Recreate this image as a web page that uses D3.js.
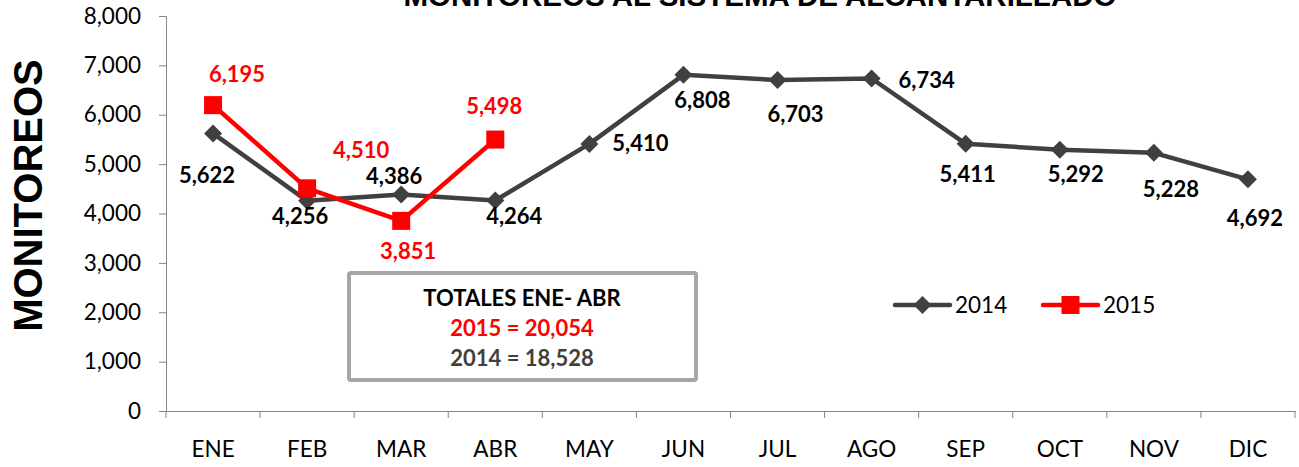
<!DOCTYPE html>
<html>
<head>
<meta charset="utf-8">
<script src="https://cdn.jsdelivr.net/npm/d3@7"></script>
<style>
  body { margin: 0; background: #fff; }
  text { font-family: Lato, "Open Sans", sans-serif; }
</style>
</head>
<body>
<div id="chart"></div>
<script>
// data
const months = ["ENE", "FEB", "MAR", "ABR", "MAY", "JUN", "JUL", "AGO", "SEP", "OCT", "NOV", "DIC"];
const values2014 = [5622, 4256, 4386, 4264, 5410, 6808, 6703, 6734, 5411, 5292, 5228, 4692];
const values2015 = [6195, 4510, 3851, 5498];
const yTicks = [0, 1000, 2000, 3000, 4000, 5000, 6000, 7000, 8000];
const totalsLines = ["TOTALES ENE- ABR", "2015 = 20,054", "2014 = 18,528"];

// label offsets (dx, dy from the point), as placed by hand in the original
const labelOff2014 = [[-6, 42], [-7, 15], [-7, -18], [19, 16], [51, -1], [19, 25], [18, 34], [55, 1], [2, 30], [16, 24], [17, 36], [7, 39]];
const labelOff2015 = [[24, -31], [54, -38], [7, 30], [-1, -34]];

const width = 1299, height = 467;
const margin = { top: 16, right: 4, bottom: 56, left: 166 };

const svg = d3.select("#chart").append("svg")
    .attr("width", width)
    .attr("height", height);

const x = d3.scaleBand()
    .domain(months)
    .range([margin.left, width - margin.right])
    .padding(0);

const y = d3.scaleLinear()
    .domain([0, 8000])
    .range([height - margin.bottom, margin.top]);

const cx = m => x(m) + x.bandwidth() / 2;
const axisColor = "#868686";
const c2014 = "#404040";
const c2015 = "#ff0000";

// title (cut off at top, as in the original)
svg.append("text")
    .attr("x", 760)
    .attr("y", 6)
    .attr("text-anchor", "middle")
    .style("font-family", "'Liberation Sans', Arial, sans-serif")
    .style("font-weight", "700")
    .style("font-size", "29.5px")
    .text("MONITOREOS AL SISTEMA DE ALCANTARILLADO");

// y title
svg.append("text")
    .attr("transform", `translate(42, ${y(4000) - 18}) rotate(-90)`)
    .attr("text-anchor", "middle")
    .style("font-family", "'Liberation Sans', Arial, sans-serif")
    .style("font-weight", "700")
    .style("font-size", "40px")
    .text("MONITOREOS");

// y axis
const yAxis = svg.append("g")
    .attr("transform", `translate(${margin.left},0)`)
    .call(d3.axisLeft(y).tickValues(yTicks).tickSize(7).tickPadding(18)
        .tickFormat(d3.format(",")));
yAxis.select(".domain").attr("stroke", axisColor);
yAxis.selectAll(".tick line").attr("stroke", axisColor);
yAxis.selectAll(".tick text")
    .style("font-size", "22.5px")
    .attr("fill", "#000");

// x axis
const xAxis = svg.append("g")
    .attr("transform", `translate(0,${y(0)})`)
    .call(d3.axisBottom(x).tickSize(0).tickPadding(30));
xAxis.select(".domain").attr("stroke", axisColor);
xAxis.selectAll(".tick text")
    .style("font-size", "22.5px")
    .attr("fill", "#000");

// boundary ticks between categories
xAxis.selectAll("line.sep")
    .data(months.concat(["end"]))
    .enter().append("line")
    .attr("class", "sep")
    .attr("x1", (d, i) => i < months.length ? x(d) : x.range()[1])
    .attr("x2", (d, i) => i < months.length ? x(d) : x.range()[1])
    .attr("y1", 0)
    .attr("y2", 7)
    .attr("stroke", axisColor);

// totals box
const box = svg.append("g");
box.append("rect")
    .attr("x", 349)
    .attr("y", 273)
    .attr("width", 347)
    .attr("height", 107)
    .attr("rx", 2)
    .attr("fill", "#fff")
    .attr("stroke", "#a6a6a6")
    .attr("stroke-width", 4);
box.selectAll("text")
    .data(totalsLines)
    .enter().append("text")
    .attr("x", 522)
    .attr("y", (d, i) => 306 + i * 30)
    .attr("text-anchor", "middle")
    .style("font-weight", "700")
    .style("font-size", "22px")
    .attr("fill", (d, i) => i === 0 ? "#000" : i === 1 ? c2015 : c2014)
    .text(d => d);

// lines
const line = d3.line()
    .x((d, i) => cx(months[i]))
    .y(d => y(d));

svg.append("path")
    .datum(values2014)
    .attr("fill", "none")
    .attr("stroke", c2014)
    .attr("stroke-width", 4.5)
    .attr("stroke-linejoin", "round")
    .attr("d", line);

svg.selectAll("path.dia")
    .data(values2014)
    .enter().append("path")
    .attr("class", "dia")
    .attr("transform", (d, i) => `translate(${cx(months[i])},${y(d)})`)
    .attr("d", "M0,-9L9,0L0,9L-9,0Z")
    .attr("fill", c2014);

svg.append("path")
    .datum(values2015)
    .attr("fill", "none")
    .attr("stroke", c2015)
    .attr("stroke-width", 4.5)
    .attr("stroke-linejoin", "round")
    .attr("d", line);

svg.selectAll("rect.sq")
    .data(values2015)
    .enter().append("rect")
    .attr("class", "sq")
    .attr("x", (d, i) => cx(months[i]) - 9)
    .attr("y", d => y(d) - 9)
    .attr("width", 18)
    .attr("height", 18)
    .attr("fill", c2015);

// data labels
const fmt = d3.format(",");
svg.selectAll("text.l14")
    .data(values2014)
    .enter().append("text")
    .attr("class", "l14")
    .attr("x", (d, i) => cx(months[i]) + labelOff2014[i][0])
    .attr("y", (d, i) => y(d) + labelOff2014[i][1] + 8)
    .attr("text-anchor", "middle")
    .style("font-weight", "700")
    .style("font-size", "22px")
    .attr("fill", "#000")
    .text(d => fmt(d));

svg.selectAll("text.l15")
    .data(values2015)
    .enter().append("text")
    .attr("class", "l15")
    .attr("x", (d, i) => cx(months[i]) + labelOff2015[i][0])
    .attr("y", (d, i) => y(d) + labelOff2015[i][1] + 8)
    .attr("text-anchor", "middle")
    .style("font-weight", "700")
    .style("font-size", "22px")
    .attr("fill", c2015)
    .text(d => fmt(d));

// legend
const legend = svg.append("g").attr("transform", "translate(895,305)");
const items = [
    { name: "2014", color: c2014, shape: "dia" },
    { name: "2015", color: c2015, shape: "sq" }
];
items.forEach((it, i) => {
    const g = legend.append("g").attr("transform", `translate(${i * 148},0)`);
    g.append("line")
        .attr("x1", 0).attr("x2", 55)
        .attr("stroke", it.color)
        .attr("stroke-width", 4.5)
        .attr("stroke-linecap", "round");
    if (it.shape === "dia") {
        g.append("path")
            .attr("transform", "translate(27.5,0)")
            .attr("d", "M0,-9L9,0L0,9L-9,0Z")
            .attr("fill", it.color);
    } else {
        g.append("rect")
            .attr("x", 18.5).attr("y", -9)
            .attr("width", 18).attr("height", 18)
            .attr("fill", it.color);
    }
    g.append("text")
        .attr("x", 60)
        .attr("y", 8)
        .style("font-size", "22.5px")
        .attr("fill", "#000")
        .text(it.name);
});
</script>
</body>
</html>
